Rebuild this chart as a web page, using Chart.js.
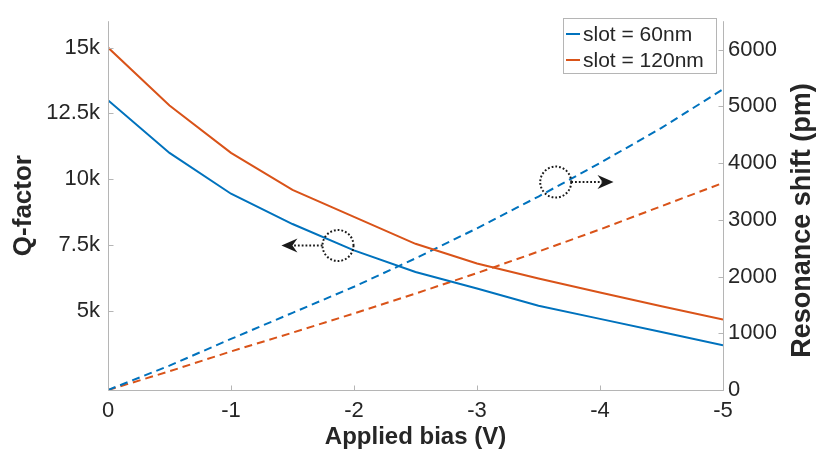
<!DOCTYPE html>
<html>
<head>
<meta charset="utf-8">
<title>Q-factor and resonance shift vs applied bias</title>
<script src="https://cdn.jsdelivr.net/npm/chart.js@4.4.1/dist/chart.umd.min.js"></script>
<style>
  html, body { margin: 0; padding: 0; background: #fff; }
  #wrap { width: 817px; height: 459px; }
</style>
</head>
<body>
<div id="wrap"><canvas id="biasChart" width="817" height="459"></canvas></div>
<script>
// Measured data: Q-factor (left axis) and resonance shift (right axis)
const biasV        = [0, -0.5, -1, -1.5, -2, -2.5, -3, -3.5, -4, -4.5, -5];
const qSlot60      = [13000, 11000, 9450, 8300, 7300, 6480, 5850, 5200, 4700, 4200, 3700];
const qSlot120     = [15000, 12800, 11000, 9600, 8570, 7550, 6800, 6230, 5700, 5180, 4680];
const shiftSlot60  = [0, 430, 900, 1360, 1820, 2320, 2850, 3410, 4000, 4620, 5300];
const shiftSlot120 = [0, 330, 680, 1010, 1350, 1700, 2060, 2440, 2830, 3240, 3650];

const slotLabels = ['slot = 60nm', 'slot = 120nm'];
const xTicks     = [0, -1, -2, -3, -4, -5];
const qTicks     = [5000, 7500, 10000, 12500, 15000];
const shiftTicks = [0, 1000, 2000, 3000, 4000, 5000, 6000];

const BLUE      = '#0072BD';
const ORANGE    = '#D95319';
const TEXT      = '#262626';
const AXIS_GRAY = '#b5b5b5';
const FONT      = '"Liberation Sans", Arial, Helvetica, sans-serif';

// Pairs an x array with y values for a linear x scale
const toPoints = (ys) => ys.map((y, i) => ({ x: biasV[i], y }));

const fixedTicks = (values) => (scale) => {
  scale.ticks = values.map((v) => ({ value: v }));
};

// Axis frame, inward ticks, right-hand title, legend and the circle/arrow callouts
const frameAndNotes = {
  id: 'frameAndNotes',
  afterDraw(chart) {
    const { ctx, chartArea: a, scales } = chart;
    const xs = scales.x, qs = scales.q, ss = scales.shift;
    const L = a.left + 0.5, R = a.right + 0.5, B = a.bottom + 0.5;

    ctx.save();
    ctx.strokeStyle = AXIS_GRAY;
    ctx.lineWidth = 1;
    ctx.setLineDash([]);
    ctx.beginPath();
    ctx.moveTo(L, a.top); ctx.lineTo(L, B); ctx.lineTo(R, B); ctx.lineTo(R, a.top);
    xTicks.forEach((v) => {
      const px = Math.round(xs.getPixelForValue(v)) + 0.5;
      ctx.moveTo(px, B); ctx.lineTo(px, B - 5);
    });
    qTicks.forEach((v) => {
      const py = Math.round(qs.getPixelForValue(v)) + 0.5;
      ctx.moveTo(L, py); ctx.lineTo(L + 5, py);
    });
    shiftTicks.forEach((v) => {
      const py = Math.round(ss.getPixelForValue(v)) + 0.5;
      ctx.moveTo(R, py); ctx.lineTo(R - 5, py);
    });
    ctx.stroke();

    // right axis title reads bottom-to-top
    ctx.fillStyle = TEXT;
    ctx.font = 'bold 27px ' + FONT;
    ctx.textAlign = 'center';
    ctx.textBaseline = 'middle';
    ctx.save();
    ctx.translate(803, (a.top + a.bottom) / 2 + 15);
    ctx.rotate(-Math.PI / 2);
    ctx.fillText('Resonance shift (pm)', 0, 0);
    ctx.restore();

    // legend box
    const lx = 563, ly = 18, lw = 153, lh = 55;
    ctx.fillStyle = '#fff';
    ctx.fillRect(lx, ly, lw, lh);
    ctx.strokeStyle = AXIS_GRAY;
    ctx.strokeRect(lx + 0.5, ly + 0.5, lw, lh);
    ctx.font = '21px ' + FONT;
    ctx.textAlign = 'left';
    chart.data.datasets.slice(0, 2).forEach((ds, i) => {
      const y = ly + 16 + i * 26;
      ctx.strokeStyle = ds.borderColor;
      ctx.lineWidth = 2;
      ctx.beginPath();
      ctx.moveTo(lx + 3, y); ctx.lineTo(lx + 17, y);
      ctx.stroke();
      ctx.fillStyle = TEXT;
      ctx.fillText(ds.label, lx + 20, y + 1);
    });

    // dotted circle on a curve with a dotted arrow toward its axis
    const notes = [
      { axis: qs, x: -1.87, y: 7485, tipX: -1.41 },
      { axis: ss, x: -3.64, y: 3665, tipX: -4.11 },
    ];
    const r = 15.5;
    notes.forEach((n) => {
      const cx = xs.getPixelForValue(n.x);
      const cy = n.axis.getPixelForValue(n.y);
      const tx = xs.getPixelForValue(n.tipX);
      const dir = Math.sign(tx - cx);
      ctx.strokeStyle = '#1a1a1a';
      ctx.fillStyle = '#1a1a1a';
      ctx.lineWidth = 2;
      ctx.setLineDash([1.8, 2]);
      ctx.beginPath();
      ctx.arc(cx, cy, r, 0, Math.PI * 2);
      ctx.stroke();
      ctx.beginPath();
      ctx.moveTo(cx + dir * r, cy);
      ctx.lineTo(tx - dir * 11, cy);
      ctx.stroke();
      ctx.setLineDash([]);
      ctx.beginPath();
      ctx.moveTo(tx, cy);
      ctx.lineTo(tx - dir * 16, cy - 7);
      ctx.lineTo(tx - dir * 11, cy);
      ctx.lineTo(tx - dir * 16, cy + 7);
      ctx.closePath();
      ctx.fill();
    });
    ctx.restore();
  },
};

const solid = (label, color, ys) => ({
  label, data: toPoints(ys), yAxisID: 'q',
  borderColor: color, borderWidth: 2, pointRadius: 0, tension: 0, fill: false,
});
const dashed = (label, color, ys) => ({
  label, data: toPoints(ys), yAxisID: 'shift',
  borderColor: color, borderWidth: 2, borderDash: [8, 5], pointRadius: 0, tension: 0, fill: false,
});

new Chart(document.getElementById('biasChart').getContext('2d'), {
  type: 'line',
  data: {
    datasets: [
      solid(slotLabels[0], BLUE, qSlot60),
      solid(slotLabels[1], ORANGE, qSlot120),
      dashed(slotLabels[0], BLUE, shiftSlot60),
      dashed(slotLabels[1], ORANGE, shiftSlot120),
    ],
  },
  options: {
    responsive: false,
    animation: false,
    layout: { padding: { top: 14, left: 0, right: 0, bottom: 0 } },
    plugins: { legend: { display: false }, tooltip: { enabled: false } },
    scales: {
      x: {
        type: 'linear', position: 'bottom', min: -5, max: 0, reverse: true,
        grid: { display: false, drawTicks: false }, border: { display: false },
        afterBuildTicks: fixedTicks(xTicks),
        afterFit: (s) => { s.height = 69; },
        ticks: {
          font: { family: FONT, size: 22 }, color: TEXT, padding: 8, maxRotation: 0,
          callback: (v) => String(v),
        },
        title: {
          display: true, text: 'Applied bias (V)', color: TEXT,
          font: { family: FONT, size: 24, weight: 'bold' }, padding: { top: 0, bottom: 7 },
        },
      },
      q: {
        type: 'linear', position: 'left', min: 2000, max: 16000,
        grid: { display: false, drawTicks: false }, border: { display: false },
        afterBuildTicks: fixedTicks(qTicks),
        afterFit: (s) => { s.width = 108; },
        ticks: {
          font: { family: FONT, size: 22 }, color: TEXT, padding: 8,
          callback: (v) => (v / 1000) + 'k',
        },
        title: {
          display: true, text: 'Q-factor', color: TEXT,
          font: { family: FONT, size: 26, weight: 'bold' }, padding: { top: 8, bottom: 0 },
        },
      },
      shift: {
        type: 'linear', position: 'right', min: 0, max: 6500,
        grid: { display: false, drawTicks: false }, border: { display: false },
        afterBuildTicks: fixedTicks(shiftTicks),
        afterFit: (s) => { s.width = 94; },
        ticks: {
          font: { family: FONT, size: 22 }, color: TEXT, padding: 5,
          callback: (v) => String(v),
        },
      },
    },
  },
  plugins: [frameAndNotes],
});
</script>
</body>
</html>
